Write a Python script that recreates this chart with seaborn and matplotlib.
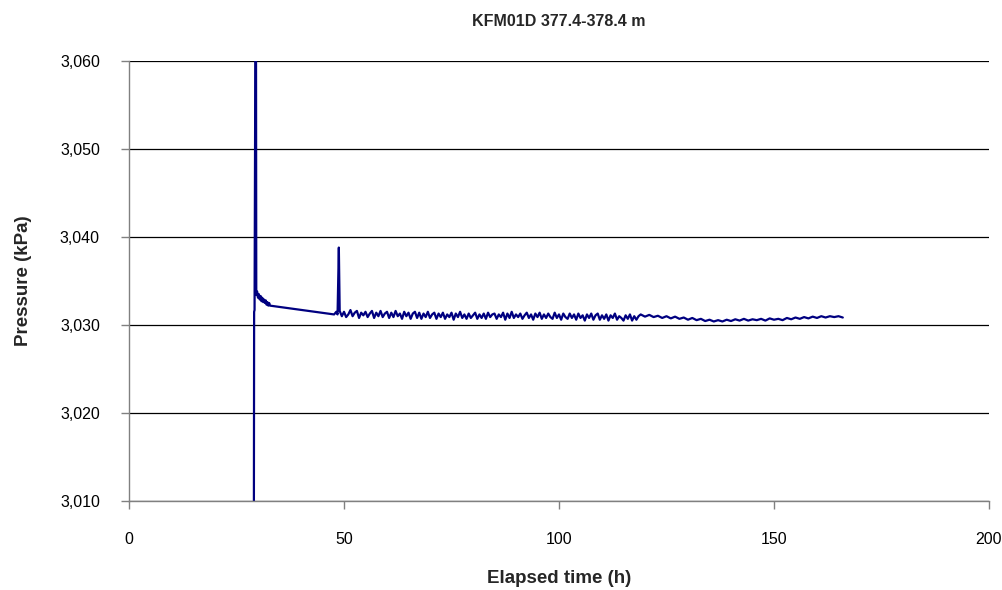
import matplotlib
matplotlib.use("Agg")
import matplotlib.pyplot as plt
import matplotlib.ticker as mticker
import seaborn as sns
import pandas as pd

# ---- data ----
startup_hours = [29.0, 29.1, 29.2, 29.5, 29.6, 29.8, 30.0, 30.2, 30.4, 30.6, 30.8,
                 31.0, 31.2, 31.4, 31.6, 31.8, 32.0, 32.2, 32.4, 32.6, 32.8]
startup_kpa = [2990.0, 3031.5, 3031.7, 3080.0, 3033.4, 3033.8, 3033.1, 3033.5, 3032.9,
               3033.3, 3032.7, 3033.1, 3032.6, 3032.9, 3032.5, 3032.8, 3032.3, 3032.6,
               3032.2, 3032.5, 3032.2]

spike_hours = [47.7, 48.2, 48.5, 48.8]
spike_kpa = [3031.2, 3031.5, 3031.2, 3038.8]

dense_hours = [
    49.0, 49.5, 50.0, 50.5, 51.0, 51.5, 52.0, 52.5, 53.0, 53.5, 54.0, 54.5,
    55.0, 55.5, 56.0, 56.5, 57.0, 57.5, 58.0, 58.5, 59.0, 59.5, 60.0, 60.5,
    61.0, 61.5, 62.0, 62.5, 63.0, 63.5, 64.0, 64.5, 65.0, 65.5, 66.0, 66.5,
    67.0, 67.5, 68.0, 68.5, 69.0, 69.5, 70.0, 70.5, 71.0, 71.5, 72.0, 72.5,
    73.0, 73.5, 74.0, 74.5, 75.0, 75.5, 76.0, 76.5, 77.0, 77.5, 78.0, 78.5,
    79.0, 79.5, 80.0, 80.5, 81.0, 81.5, 82.0, 82.5, 83.0, 83.5, 84.0, 84.5,
    85.0, 85.5, 86.0, 86.5, 87.0, 87.5, 88.0, 88.5, 89.0, 89.5, 90.0, 90.5,
    91.0, 91.5, 92.0, 92.5, 93.0, 93.5, 94.0, 94.5, 95.0, 95.5, 96.0, 96.5,
    97.0, 97.5, 98.0, 98.5, 99.0, 99.5, 100.0, 100.5, 101.0, 101.5, 102.0, 102.5,
    103.0, 103.5, 104.0, 104.5, 105.0, 105.5, 106.0, 106.5, 107.0, 107.5, 108.0, 108.5,
    109.0, 109.5, 110.0, 110.5, 111.0, 111.5, 112.0, 112.5, 113.0, 113.5, 114.0, 114.5,
    115.0, 115.5, 116.0, 116.5, 117.0, 117.5, 118.0, 118.5]
dense_kpa = [
    3031.6, 3031.0, 3031.5, 3030.9, 3031.2, 3031.7, 3031.0, 3031.4, 3031.6, 3030.8, 3031.4, 3031.1,
    3031.5, 3030.9, 3031.3, 3031.6, 3030.8, 3031.4, 3031.0, 3031.6, 3030.9, 3031.3, 3031.5, 3030.8,
    3031.4, 3030.9, 3031.6, 3031.0, 3031.3, 3030.7, 3031.5, 3031.0, 3031.4, 3030.7, 3031.3, 3031.5,
    3030.8, 3031.4, 3030.7, 3031.3, 3030.9, 3031.5, 3030.8, 3031.2, 3031.4, 3030.7, 3031.3, 3030.9,
    3031.4, 3030.7, 3031.2, 3030.9, 3031.4, 3030.6, 3031.3, 3030.9, 3031.5, 3030.8, 3031.2, 3030.7,
    3031.3, 3030.8, 3031.1, 3031.4, 3030.7, 3031.2, 3030.8, 3031.3, 3030.7, 3031.4, 3030.9, 3031.2,
    3031.3, 3030.7, 3031.2, 3030.9, 3031.4, 3030.6, 3031.3, 3030.8, 3031.5, 3030.8, 3031.2, 3030.9,
    3031.3, 3030.7, 3031.1, 3031.4, 3030.8, 3031.2, 3030.6, 3031.3, 3030.9, 3031.4, 3030.7, 3031.2,
    3030.8, 3031.3, 3030.9, 3030.7, 3031.4, 3030.8, 3031.2, 3030.6, 3031.3, 3030.9, 3030.7, 3031.3,
    3030.8, 3031.2, 3030.6, 3031.3, 3030.8, 3031.1, 3030.5, 3031.2, 3030.8, 3031.3, 3030.6, 3031.1,
    3031.3, 3030.6, 3031.1, 3030.7, 3031.2, 3030.5, 3031.1, 3030.8, 3031.3, 3030.6, 3031.0, 3030.8,
    3030.5, 3031.1, 3030.7, 3031.2, 3030.5, 3031.0, 3030.6, 3031.0]

sparse_hours = [119.0, 120.0, 121.0, 122.0, 123.0, 124.0, 125.0, 126.0, 127.0, 128.0,
                129.0, 130.0, 131.0, 132.0, 133.0, 134.0, 135.0, 136.0, 137.0, 138.0,
                139.0, 140.0, 141.0, 142.0, 143.0, 144.0, 145.0, 146.0, 147.0, 148.0,
                149.0, 150.0, 151.0, 152.0, 153.0, 154.0, 155.0, 156.0, 157.0, 158.0,
                159.0, 160.0, 161.0, 162.0, 163.0, 164.0, 165.0, 166.0]
sparse_kpa = [3031.2, 3030.95, 3031.15, 3030.9, 3031.05, 3030.8, 3031.0, 3030.75, 3030.95, 3030.7,
              3030.85, 3030.6, 3030.8, 3030.55, 3030.7, 3030.45, 3030.6, 3030.4, 3030.55, 3030.4,
              3030.6, 3030.45, 3030.65, 3030.5, 3030.7, 3030.5, 3030.65, 3030.55, 3030.7, 3030.5,
              3030.75, 3030.6, 3030.7, 3030.55, 3030.8, 3030.65, 3030.85, 3030.7, 3030.9, 3030.75,
              3030.95, 3030.8, 3031.0, 3030.85, 3031.0, 3030.9, 3031.0, 3030.85]

title_text = "KFM01D 377.4-378.4 m"
x_label = "Elapsed time (h)"
y_label = "Pressure (kPa)"
x_ticks = [0, 50, 100, 150, 200]
y_ticks = [3010, 3020, 3030, 3040, 3050, 3060]

# ---- build table ----
hours = startup_hours + spike_hours + dense_hours + sparse_hours
kpa = startup_kpa + spike_kpa + dense_kpa + sparse_kpa
df = pd.DataFrame({"hours": hours, "kpa": kpa})

sns.set_theme(style="white")
plt.rcParams["font.family"] = ["Liberation Sans", "DejaVu Sans"]

fig = plt.figure(figsize=(10.02, 5.90), dpi=100)
ax = fig.add_axes([0.12874, 0.15085, 0.85828, 0.74576])

sns.lineplot(data=df, x="hours", y="kpa", sort=False, estimator=None,
             color="#000080", linewidth=1.6, ax=ax, zorder=3)

ax.set_xlim(0, 200)
ax.set_ylim(3010, 3060)
ax.set_xticks(x_ticks)
ax.set_yticks(y_ticks)
ax.yaxis.set_major_formatter(mticker.FuncFormatter(lambda v, p: f"{int(v):,}"))

ax.grid(axis="y", color="black", linewidth=0.9, zorder=0)
ax.grid(axis="x", visible=False)
ax.set_axisbelow(True)
for s in ["top", "right"]:
    ax.spines[s].set_visible(False)
for s in ["left", "bottom"]:
    ax.spines[s].set_color("#808080")
    ax.spines[s].set_linewidth(1.0)
    ax.spines[s].set_zorder(4)

ax.tick_params(axis="both", which="major", direction="out", length=6,
               width=1.0, color="#808080", labelsize=11.5, labelcolor="black",
               left=True, bottom=True)
ax.tick_params(axis="y", pad=15)
ax.tick_params(axis="x", pad=16)

ax.set_title(title_text, fontsize=11.5, fontweight="bold", pad=25)
ax.set_xlabel(x_label, fontsize=13.5, fontweight="bold", labelpad=17)
ax.set_ylabel(y_label, fontsize=13.5, fontweight="bold", labelpad=20)

fig.savefig("out.png", dpi=100)
